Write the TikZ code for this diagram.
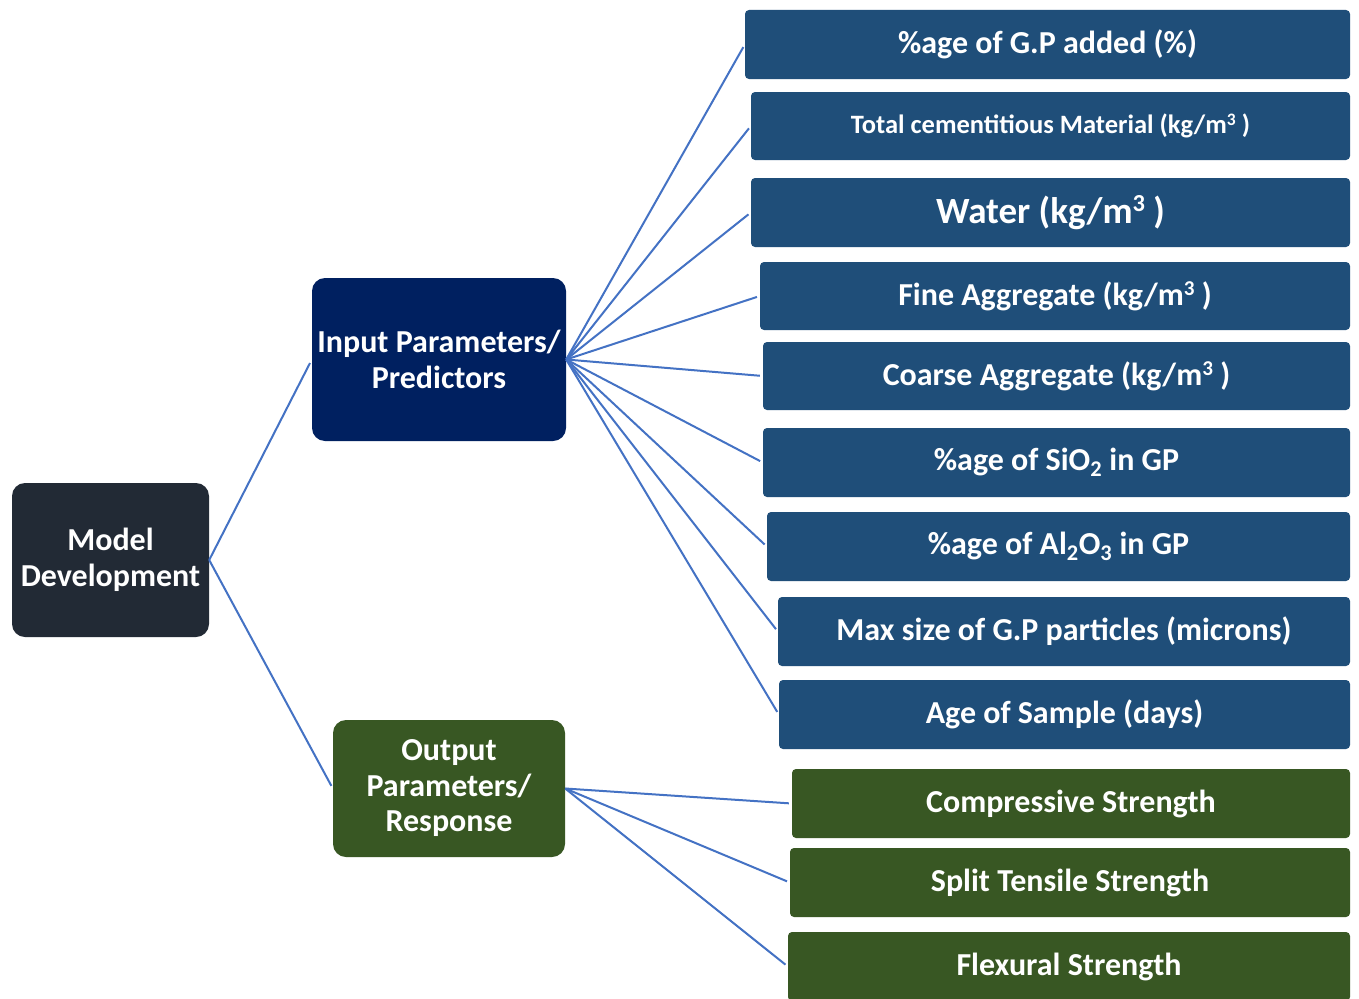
\documentclass[tikz,border=0pt]{standalone}
\usepackage{fontspec}
\setmainfont{Carlito}
\definecolor{itemblue}{HTML}{1F4E79}
\definecolor{navy}{HTML}{002060}
\definecolor{leafgreen}{HTML}{385723}
\definecolor{slate}{HTML}{222A35}
\definecolor{linkblue}{HTML}{4472C4}
\newcommand{\fs}[2]{\fontsize{#1}{#2}\selectfont}
% cube exponent for the unit kg/m3
\newcommand{\cubed}{\raisebox{0.3em}{\scalebox{0.66}{3}}}
\tikzset{
  every node/.style={text=white, inner sep=0pt, align=center},
  itembox/.style={fill=itemblue, rounded corners=4pt},
  respbox/.style={fill=leafgreen, rounded corners=4pt},
  hubbox/.style={rounded corners=13pt, font=\bfseries\fs{32}{35.5}},
  link/.style={draw=linkblue, line width=2pt},
}
\begin{document}
\begin{tikzpicture}[x=1pt, y=-1pt]
\useasboundingbox (0,0) rectangle (1359,998);
\fill[white] (0,0) rectangle (1359,998);

% central hubs
\node[hubbox, fill=slate, minimum width=197pt, minimum height=154pt] (md) at (110.5,560)
  {Model\\Development};
\node[hubbox, fill=navy, minimum width=254pt, minimum height=163pt] (inp) at (439,359.5)
  {Input Parameters/\\Predictors};
\node[hubbox, fill=leafgreen, minimum width=232pt, minimum height=137pt] (out) at (449,788.5)
  {Output\\Parameters/\\Response};

% predictor boxes
\node[itembox, minimum width=605pt, minimum height=69pt, font=\bfseries\fs{32}{36}] (p1) at (1047.5,44.5) {\%age of G.P added (\%)};
\node[itembox, minimum width=599pt, minimum height=68pt, font=\bfseries\fs{26.5}{30}] (p2) at (1050.5,126) {Total cementitious Material (kg/m\cubed\ )};
\node[itembox, minimum width=599pt, minimum height=69pt, font=\bfseries\fs{37}{40}] (p3) at (1050.5,212.5) {Water (kg/m\cubed\ )};
\node[itembox, minimum width=590pt, minimum height=68pt, font=\bfseries\fs{32}{36}] (p4) at (1055,296) {Fine Aggregate (kg/m\cubed\ )};
\node[itembox, minimum width=587pt, minimum height=68pt, font=\bfseries\fs{32}{36}] (p5) at (1056.5,376) {Coarse Aggregate (kg/m\cubed\ )};
\node[itembox, minimum width=587pt, minimum height=69pt, font=\bfseries\fs{32}{36}] (p6) at (1056.5,462.5) {\%age of SiO\textsubscript{2} in GP};
\node[itembox, minimum width=583pt, minimum height=69pt, font=\bfseries\fs{32}{36}] (p7) at (1058.5,546.5) {\%age of Al\textsubscript{2}O\textsubscript{3} in GP};
\node[itembox, minimum width=572pt, minimum height=69pt, font=\bfseries\fs{32}{36}] (p8) at (1064,631.5) {Max size of G.P particles (microns)};
\node[itembox, minimum width=571pt, minimum height=69pt, font=\bfseries\fs{32}{36}] (p9) at (1064.5,714.5) {Age of Sample (days)};

% response boxes
\node[respbox, minimum width=558pt, minimum height=69pt, font=\bfseries\fs{32}{36}] (r1) at (1071,803.5) {Compressive Strength};
\node[respbox, minimum width=560pt, minimum height=69pt, font=\bfseries\fs{32}{36}] (r2) at (1070,882.5) {Split Tensile Strength};
\node[respbox, minimum width=562pt, minimum height=69pt, font=\bfseries\fs{32}{36}] (r3) at (1069,966.5) {Flexural Strength};

% connectors
\draw[link, shorten >=4pt] (md.east) -- (inp.west);
\draw[link, shorten >=3pt] (md.east) -- (out.west);
\foreach \t in {p1,p2,p3,p4,p5,p6,p7,p8,p9}
  \draw[link, shorten >=3pt] (inp.east) -- (\t.west);
\foreach \t in {r1,r2,r3}
  \draw[link, shorten >=3pt] (out.east) -- (\t.west);
\end{tikzpicture}
\end{document}
